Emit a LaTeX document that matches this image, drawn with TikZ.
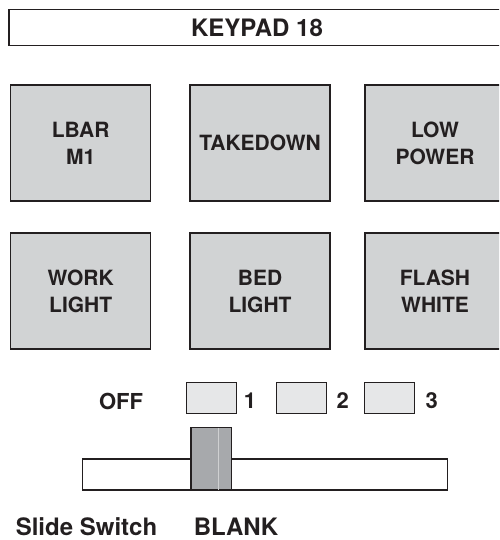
\documentclass[tikz,border=0pt]{standalone}
\usepackage{fontspec}
\setmainfont{TeX Gyre Heros}
\usetikzlibrary{positioning}

\definecolor{ink}{HTML}{231F20}
\definecolor{keygray}{HTML}{D1D3D4}
\definecolor{padgray}{HTML}{E6E7E8}
\definecolor{knobgray}{HTML}{A7A9AC}

\tikzset{
  keybox/.style={draw=ink, line width=1.3pt, fill=keygray, minimum width=140pt,
    minimum height=116pt, inner sep=0pt, align=center, text=ink,
    font=\bfseries\fontsize{21}{27}\selectfont},
  titlebox/.style={draw=ink, line width=1.3pt, minimum width=496pt,
    minimum height=36.5pt, inner sep=0pt, text=ink,
    font=\bfseries\fontsize{24}{27}\selectfont},
  padbox/.style={draw=ink, line width=1pt, fill=padgray, minimum width=50pt,
    minimum height=30.5pt, inner sep=0pt},
  lbl/.style={text=ink, inner sep=0pt, font=\bfseries\fontsize{22}{26}\selectfont},
  biglbl/.style={text=ink, inner sep=0pt, anchor=base,
    font=\bfseries\fontsize{24}{28}\selectfont}
}

\begin{document}
\begin{tikzpicture}[x=1pt,y=-1pt]
  \clip (0,0) rectangle (499,540);

  \node[titlebox] (title) at (257,27.5) {KEYPAD 18};

  % keys
  \foreach \nm/\cx/\cy/\txt in {
    lbar/80.7/143/{LBAR\\M1},
    takedown/260/143/{TAKEDOWN},
    lowpower/435/143/{LOW\\POWER},
    worklight/80.7/291/{WORK\\LIGHT},
    bedlight/260/291/{BED\\LIGHT},
    flash/435/291/{FLASH\\WHITE}}
  {
    \node[keybox] (\nm) at (\cx,\cy) {\txt};
  }

  % slide switch positions
  \node[lbl] (off) at (121,401) {OFF};
  \foreach \i/\cx/\lx in {1/211/250, 2/301.2/342.7, 3/389.7/431.7}
  {
    \node[padbox] (pad\i) at (\cx,398) {};
    \node[lbl] (num\i) at (\lx,401) {\i};
  }

  % slide switch
  \node[draw=ink, line width=1.5pt, fill=white, minimum width=365pt,
    minimum height=31pt, inner sep=0pt] (bar) at (265.2,474.5) {};
  \node[draw=ink, line width=1.5pt, fill=knobgray, minimum width=40.7pt,
    minimum height=62.7pt, inner sep=0pt] (knob) at (211.35,458.65) {};
  \draw[white!45!knobgray, line width=0.4pt]
    ([xshift=7.3pt,yshift=-1pt]knob.north) -- ([xshift=7.3pt,yshift=1pt]knob.south);

  \node[biglbl] (slide) at (86.5,535.5) {Slide Switch};
  \node[biglbl] (blank) at (236,535.5) {BLANK};

\end{tikzpicture}
\end{document}
